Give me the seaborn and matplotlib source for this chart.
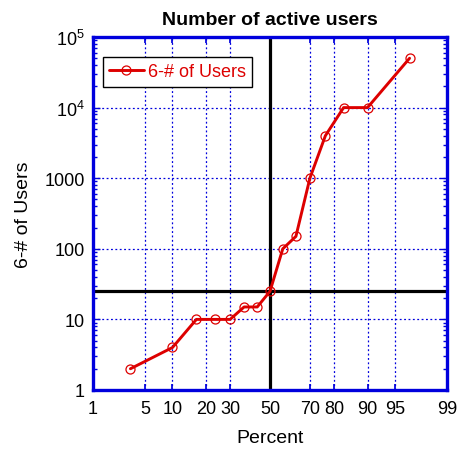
"""
Number of active users - normal probability paper plot
"""
from statistics import NormalDist
import numpy as np
import pandas as pd
import matplotlib
matplotlib.use('Agg')
import matplotlib.pyplot as plt
import seaborn as sns
from matplotlib.ticker import FixedLocator, FixedFormatter, LogLocator, NullFormatter

# 数据
percent = [3.33, 10, 16.67, 23.33, 30, 36.67, 43.33, 50, 56.67, 63.33, 70, 76.67, 83.33, 90, 96.67]
users = [2, 4, 10, 10, 10, 15, 15, 25, 100, 150, 1000, 4000, 10000, 10000, 50000]
x_ticks = [1, 5, 10, 20, 30, 50, 70, 80, 90, 95, 99]
x_grid = [5, 10, 20, 30, 50, 70, 80, 90, 95]
y_ticks = [1, 10, 100, 1000, 1e4, 1e5]
y_ticklabels = ['1', '10', '100', '1000', r'$10^4$', r'$10^5$']
cross_x, cross_y = 50, 25

sns.set_theme(style='white')
plt.rcParams['font.family'] = ['Liberation Sans', 'DejaVu Sans']
plt.rcParams['mathtext.fontset'] = 'custom'
plt.rcParams['mathtext.rm'] = 'Liberation Sans'
plt.rcParams['mathtext.it'] = 'Liberation Sans'
plt.rcParams['text.color'] = 'black'
plt.rcParams['axes.labelcolor'] = 'black'
plt.rcParams['xtick.labelcolor'] = 'black'
plt.rcParams['ytick.labelcolor'] = 'black'

_nd = NormalDist()


def prob_fwd(p):
    p = np.clip(np.asarray(p, dtype=float), 1e-6, 100 - 1e-6)
    return np.vectorize(lambda v: _nd.inv_cdf(v / 100.0), otypes=[float])(p)


def prob_inv(z):
    z = np.asarray(z, dtype=float)
    return np.vectorize(lambda v: _nd.cdf(v) * 100.0, otypes=[float])(z)


df = pd.DataFrame({'Percent': percent, 'Users': users})

fig = plt.figure(figsize=(4.63, 4.52), dpi=100)
ax = fig.add_axes([93 / 463, 1 - 391 / 452, 354 / 463, 353 / 452])

blue = '#0000dd'
red = '#dd0000'

ax.set_xscale('function', functions=(prob_fwd, prob_inv))
ax.set_yscale('log')

# 网格
for gx in x_grid:
    ax.axvline(gx, color=blue, linestyle=(0, (1.5, 2)), linewidth=0.9, zorder=1)
for gy in y_ticks[1:-1]:
    ax.axhline(gy, color=blue, linestyle=(0, (1.5, 2)), linewidth=0.9, zorder=1)

# 十字准线
ax.axvline(cross_x, color='black', linewidth=2.3, zorder=2)
ax.axhline(cross_y, color='black', linewidth=2.3, zorder=2)

sns.lineplot(data=df, x='Percent', y='Users', ax=ax, color=red, linewidth=2.1,
             marker='o', markersize=6.5, markerfacecolor='none',
             markeredgecolor=red, markeredgewidth=0.9, label='6-# of Users',
             zorder=3)

ax.set_xlim(1, 99)
ax.set_ylim(1, 1e5)

ax.xaxis.set_major_locator(FixedLocator(x_ticks))
ax.xaxis.set_major_formatter(FixedFormatter([str(v) for v in x_ticks]))
ax.xaxis.set_minor_locator(FixedLocator([]))
ax.yaxis.set_major_locator(FixedLocator(y_ticks))
ax.yaxis.set_major_formatter(FixedFormatter(y_ticklabels))
ax.yaxis.set_minor_locator(LogLocator(base=10, subs=np.arange(2, 10)))
ax.yaxis.set_minor_formatter(NullFormatter())

ax.tick_params(axis='y', which='both', direction='in', left=True, right=True,
               color=blue, labelsize=13, pad=6)
ax.tick_params(axis='y', which='major', length=5, width=1)
ax.tick_params(axis='y', which='minor', length=3, width=1)
ax.tick_params(axis='x', which='major', direction='in', bottom=True, top=True,
               length=4, color=blue, labelsize=13, pad=7)

for s in ax.spines.values():
    s.set_color(blue)
    s.set_linewidth(2.4)

ax.set_title('Number of active users', fontsize=14, fontweight='bold', pad=9)
ax.set_xlabel('Percent', fontsize=14, labelpad=9)
ax.set_ylabel('6-# of Users', fontsize=14, labelpad=9)

leg = ax.legend(loc='upper left', bbox_to_anchor=(10 / 354, 1 - 20 / 353),
                borderaxespad=0, fancybox=False, framealpha=1, fontsize=13,
                handlelength=1.9, borderpad=0.35, handletextpad=0.25)
leg.get_frame().set_edgecolor('black')
leg.get_frame().set_linewidth(1)
for t in leg.get_texts():
    t.set_color(red)

fig.savefig('out.png', dpi=100)
